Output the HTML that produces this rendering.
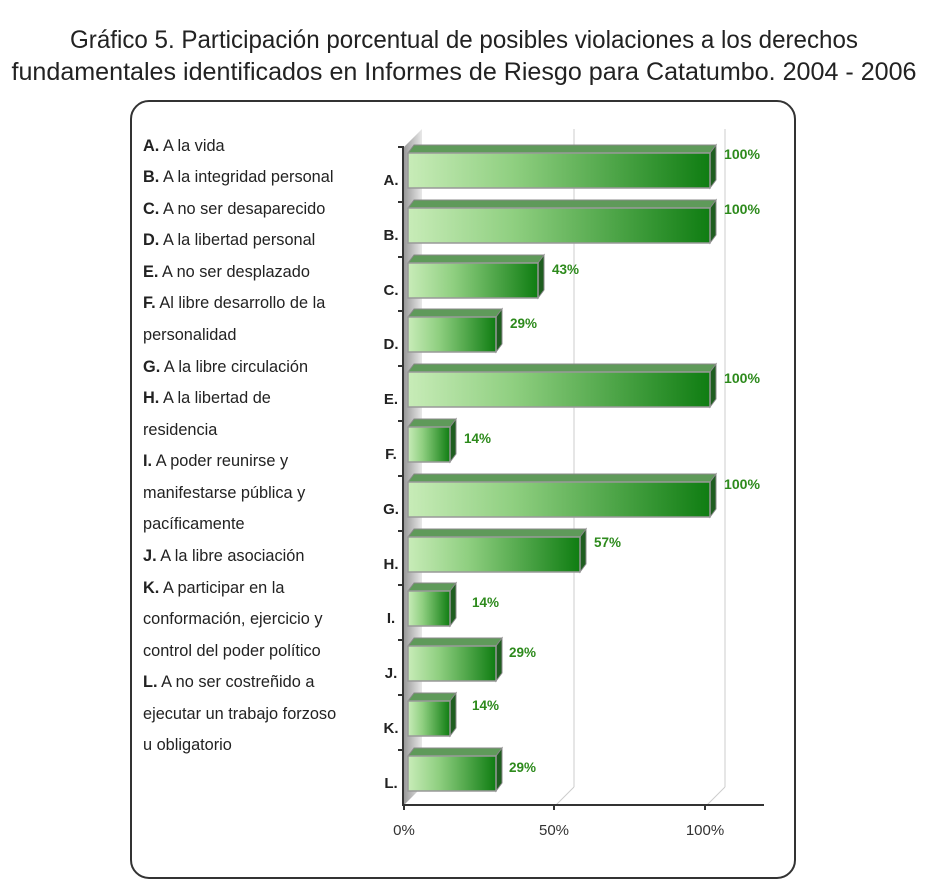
<!DOCTYPE html>
<html><head><meta charset="utf-8"><style>html,body{margin:0;padding:0;background:#fff}svg{display:block}</style></head>
<body>
<svg width="934" height="887" viewBox="0 0 934 887" xmlns="http://www.w3.org/2000/svg" font-family="Liberation Sans, sans-serif">
<defs>
<linearGradient id="gf" x1="0" x2="1" y1="0" y2="0">
<stop offset="0" stop-color="#c8ecb8"/><stop offset="0.35" stop-color="#8fcf80"/><stop offset="1" stop-color="#0f7d12"/>
</linearGradient>
<linearGradient id="wall" x1="0" x2="1"><stop offset="0" stop-color="#9a9a9a"/><stop offset="1" stop-color="#e8e8e8"/></linearGradient>
<g id="bar">
<line x1="-10" y1="0" x2="-4" y2="0" stroke="#333" stroke-width="2"/>
</g>
</defs>
<text x="464" y="48" font-size="25" text-anchor="middle" textLength="788" lengthAdjust="spacingAndGlyphs" fill="#222">Gráfico 5. Participación porcentual de posibles violaciones a los derechos</text>
<text x="464" y="80" font-size="25" text-anchor="middle" textLength="905" lengthAdjust="spacingAndGlyphs" fill="#222">fundamentales identificados en Informes de Riesgo para Catatumbo.  2004  -  2006</text>
<rect x="131" y="101" width="664" height="777" rx="18" fill="#fff" stroke="#333" stroke-width="2"/>
<polygon points="404,147 422,129 422,787 404,805" fill="url(#wall)"/>
<line x1="574" y1="129" x2="574" y2="787" stroke="#ccc"/>
<line x1="574" y1="787" x2="556" y2="805" stroke="#ccc"/>
<line x1="725" y1="129" x2="725" y2="787" stroke="#ccc"/>
<line x1="725" y1="787" x2="707" y2="805" stroke="#ccc"/>
<line x1="403" y1="147" x2="403" y2="806" stroke="#333" stroke-width="2"/>
<line x1="402" y1="805" x2="764" y2="805" stroke="#333" stroke-width="2"/>
<g stroke="#333" stroke-width="2">
<line x1="404" y1="810" x2="404" y2="805"/><line x1="554" y1="810" x2="554" y2="805"/><line x1="705" y1="810" x2="705" y2="805"/>
</g>
<g font-size="15" fill="#333" text-anchor="middle">
<text x="404" y="835">0%</text><text x="554" y="835">50%</text><text x="705" y="835">100%</text>
</g>

<g fill="#222" font-size="15" font-weight="bold" text-anchor="middle">
<text x="391" y="185">A.</text><text x="391" y="240">B.</text><text x="391" y="295">C.</text><text x="391" y="349">D.</text>
<text x="391" y="404">E.</text><text x="391" y="459">F.</text><text x="391" y="514">G.</text><text x="391" y="569">H.</text>
<text x="391" y="623">I.</text><text x="391" y="678">J.</text><text x="391" y="733">K.</text><text x="391" y="788">L.</text>
</g>
<g stroke="#333" stroke-width="2">
<line x1="398" y1="147" x2="404" y2="147"/><line x1="398" y1="202" x2="404" y2="202"/><line x1="398" y1="257" x2="404" y2="257"/>
<line x1="398" y1="311" x2="404" y2="311"/><line x1="398" y1="366" x2="404" y2="366"/><line x1="398" y1="421" x2="404" y2="421"/>
<line x1="398" y1="476" x2="404" y2="476"/><line x1="398" y1="531" x2="404" y2="531"/><line x1="398" y1="585" x2="404" y2="585"/>
<line x1="398" y1="640" x2="404" y2="640"/><line x1="398" y1="695" x2="404" y2="695"/><line x1="398" y1="750" x2="404" y2="750"/>
</g>

<!-- bars: each group translated to row top; front face y 6..41 -->
<g stroke="#888" stroke-width="1">
<g transform="translate(0,147)"><polygon points="408,6 414,-2 716,-2 710,6" fill="#5f9a5a"/><polygon points="710,6 716,-2 716,33 710,41" fill="#1f5e20"/><rect x="408" y="6" width="302" height="35" fill="url(#gf)" stroke="#999" stroke-width="1.5"/></g>
<g transform="translate(0,202)"><polygon points="408,6 414,-2 716,-2 710,6" fill="#5f9a5a"/><polygon points="710,6 716,-2 716,33 710,41" fill="#1f5e20"/><rect x="408" y="6" width="302" height="35" fill="url(#gf)" stroke="#999" stroke-width="1.5"/></g>
<g transform="translate(0,257)"><polygon points="408,6 414,-2 544,-2 538,6" fill="#5f9a5a"/><polygon points="538,6 544,-2 544,33 538,41" fill="#1f5e20"/><rect x="408" y="6" width="130" height="35" fill="url(#gf)" stroke="#999" stroke-width="1.5"/></g>
<g transform="translate(0,311)"><polygon points="408,6 414,-2 502,-2 496,6" fill="#5f9a5a"/><polygon points="496,6 502,-2 502,33 496,41" fill="#1f5e20"/><rect x="408" y="6" width="88" height="35" fill="url(#gf)" stroke="#999" stroke-width="1.5"/></g>
<g transform="translate(0,366)"><polygon points="408,6 414,-2 716,-2 710,6" fill="#5f9a5a"/><polygon points="710,6 716,-2 716,33 710,41" fill="#1f5e20"/><rect x="408" y="6" width="302" height="35" fill="url(#gf)" stroke="#999" stroke-width="1.5"/></g>
<g transform="translate(0,421)"><polygon points="408,6 414,-2 456,-2 450,6" fill="#5f9a5a"/><polygon points="450,6 456,-2 456,33 450,41" fill="#1f5e20"/><rect x="408" y="6" width="42" height="35" fill="url(#gf)" stroke="#999" stroke-width="1.5"/></g>
<g transform="translate(0,476)"><polygon points="408,6 414,-2 716,-2 710,6" fill="#5f9a5a"/><polygon points="710,6 716,-2 716,33 710,41" fill="#1f5e20"/><rect x="408" y="6" width="302" height="35" fill="url(#gf)" stroke="#999" stroke-width="1.5"/></g>
<g transform="translate(0,531)"><polygon points="408,6 414,-2 586,-2 580,6" fill="#5f9a5a"/><polygon points="580,6 586,-2 586,33 580,41" fill="#1f5e20"/><rect x="408" y="6" width="172" height="35" fill="url(#gf)" stroke="#999" stroke-width="1.5"/></g>
<g transform="translate(0,585)"><polygon points="408,6 414,-2 456,-2 450,6" fill="#5f9a5a"/><polygon points="450,6 456,-2 456,33 450,41" fill="#1f5e20"/><rect x="408" y="6" width="42" height="35" fill="url(#gf)" stroke="#999" stroke-width="1.5"/></g>
<g transform="translate(0,640)"><polygon points="408,6 414,-2 502,-2 496,6" fill="#5f9a5a"/><polygon points="496,6 502,-2 502,33 496,41" fill="#1f5e20"/><rect x="408" y="6" width="88" height="35" fill="url(#gf)" stroke="#999" stroke-width="1.5"/></g>
<g transform="translate(0,695)"><polygon points="408,6 414,-2 456,-2 450,6" fill="#5f9a5a"/><polygon points="450,6 456,-2 456,33 450,41" fill="#1f5e20"/><rect x="408" y="6" width="42" height="35" fill="url(#gf)" stroke="#999" stroke-width="1.5"/></g>
<g transform="translate(0,750)"><polygon points="408,6 414,-2 502,-2 496,6" fill="#5f9a5a"/><polygon points="496,6 502,-2 502,33 496,41" fill="#1f5e20"/><rect x="408" y="6" width="88" height="35" fill="url(#gf)" stroke="#999" stroke-width="1.5"/></g>
</g>

<g font-size="14" font-weight="bold" fill="#2d8a1c">
<text x="724" y="159" textLength="36" lengthAdjust="spacingAndGlyphs">100%</text>
<text x="724" y="214" textLength="36" lengthAdjust="spacingAndGlyphs">100%</text>
<text x="552" y="274" textLength="27" lengthAdjust="spacingAndGlyphs">43%</text>
<text x="510" y="328" textLength="27" lengthAdjust="spacingAndGlyphs">29%</text>
<text x="724" y="383" textLength="36" lengthAdjust="spacingAndGlyphs">100%</text>
<text x="464" y="443" textLength="27" lengthAdjust="spacingAndGlyphs">14%</text>
<text x="724" y="489" textLength="36" lengthAdjust="spacingAndGlyphs">100%</text>
<text x="594" y="547" textLength="27" lengthAdjust="spacingAndGlyphs">57%</text>
<text x="472" y="607" textLength="27" lengthAdjust="spacingAndGlyphs">14%</text>
<text x="509" y="657" textLength="27" lengthAdjust="spacingAndGlyphs">29%</text>
<text x="472" y="710" textLength="27" lengthAdjust="spacingAndGlyphs">14%</text>
<text x="509" y="772" textLength="27" lengthAdjust="spacingAndGlyphs">29%</text>
</g>

<g transform="translate(143,0) scale(0.96,1)" font-size="17" fill="#222">
<text x="0" y="151"><tspan font-weight="bold">A.</tspan> A la vida</text>
<text x="0" y="182"><tspan font-weight="bold">B.</tspan> A la integridad personal</text>
<text x="0" y="214"><tspan font-weight="bold">C.</tspan> A no ser desaparecido</text>
<text x="0" y="245"><tspan font-weight="bold">D.</tspan> A la libertad personal</text>
<text x="0" y="277"><tspan font-weight="bold">E.</tspan> A no ser desplazado</text>
<text x="0" y="308"><tspan font-weight="bold">F.</tspan> Al libre desarrollo de la</text>
<text x="0" y="340">personalidad</text>
<text x="0" y="372"><tspan font-weight="bold">G.</tspan> A la libre circulación</text>
<text x="0" y="403"><tspan font-weight="bold">H.</tspan> A la libertad de</text>
<text x="0" y="435">residencia</text>
<text x="0" y="466"><tspan font-weight="bold">I.</tspan> A poder reunirse y</text>
<text x="0" y="498">manifestarse pública y</text>
<text x="0" y="529">pacíficamente</text>
<text x="0" y="561"><tspan font-weight="bold">J.</tspan> A la libre asociación</text>
<text x="0" y="593"><tspan font-weight="bold">K.</tspan> A participar en la</text>
<text x="0" y="624">conformación, ejercicio y</text>
<text x="0" y="656">control del poder político</text>
<text x="0" y="687"><tspan font-weight="bold">L.</tspan> A no ser costreñido a</text>
<text x="0" y="719">ejecutar un trabajo forzoso</text>
<text x="0" y="750">u obligatorio</text>
</g>
</svg>
</body></html>
